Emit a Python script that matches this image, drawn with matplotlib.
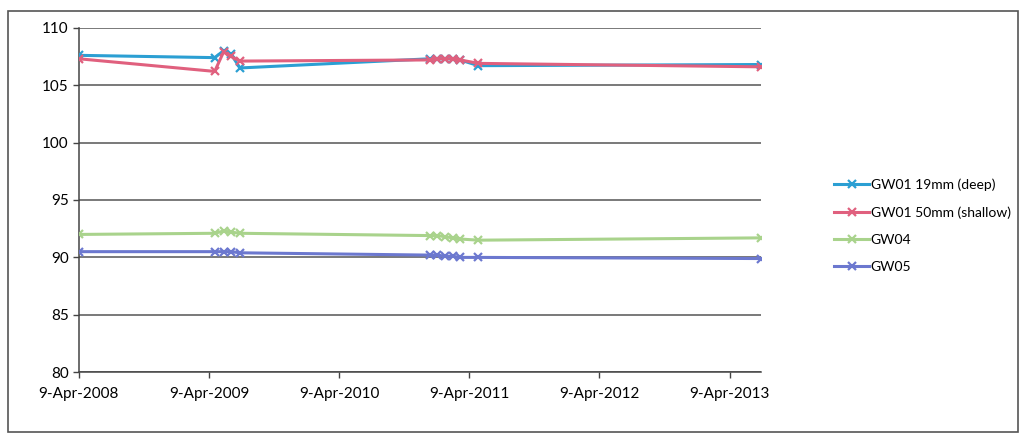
import matplotlib.pyplot as plt
import matplotlib.dates as mdates
import pandas as pd
from matplotlib.patches import Rectangle

# sampling dates
dates = pd.to_datetime(['2008-04-09', '2009-04-25', '2009-05-20', '2009-06-10', '2009-07-05',
                        '2010-12-20', '2011-01-10', '2011-02-01', '2011-02-22', '2011-03-15',
                        '2011-05-05', '2013-07-05'])

gw01_deep = [107.6, 107.4, 108.0, 107.7, 106.5, 107.3, 107.3, 107.3, 107.3, 107.2, 106.7, 106.8]
gw01_shallow = [107.3, 106.2, 107.9, 107.5, 107.1, 107.2, 107.3, 107.3, 107.3, 107.2, 106.9, 106.6]
gw04 = [92.0, 92.1, 92.3, 92.2, 92.1, 91.9, 91.9, 91.8, 91.7, 91.6, 91.5, 91.7]
gw05 = [90.5, 90.5, 90.5, 90.5, 90.4, 90.2, 90.2, 90.1, 90.1, 90.0, 90.0, 89.9]

series_names = ['GW01 19mm (deep)', 'GW01 50mm (shallow)', 'GW04', 'GW05']
series_colors = ['#2b9fd3', '#e0607e', '#a9d38c', '#6c78cf']

tick_dates = pd.to_datetime(['2008-04-09', '2009-04-09', '2010-04-09',
                             '2011-04-09', '2012-04-09', '2013-04-09'])
tick_labels = ['9-Apr-2008', '9-Apr-2009', '9-Apr-2010', '9-Apr-2011', '9-Apr-2012', '9-Apr-2013']
y_ticks = [80, 85, 90, 95, 100, 105, 110]

plt.rcParams['font.family'] = ['Lato', 'DejaVu Sans']

fig = plt.figure(figsize=(10.25, 4.41), dpi=100)
ax = fig.add_axes([0.077, 0.156, 0.665, 0.781])

# outer chart border
fig.patches.append(Rectangle((0.008, 0.02), 0.985, 0.955, transform=fig.transFigure,
                             fill=False, edgecolor='#555555', linewidth=1.2))

for vals, name, col in zip([gw01_deep, gw01_shallow, gw04, gw05], series_names, series_colors):
    ax.plot(dates, vals, color=col, linewidth=2.2, marker='x', markersize=6,
            markeredgewidth=1.6, label=name, zorder=3)

ax.set_xlim(pd.Timestamp('2008-04-09'), pd.Timestamp('2013-07-05'))
ax.set_ylim(80, 110)
ax.set_yticks(y_ticks)
ax.set_xticks(tick_dates)
ax.set_xticklabels(tick_labels)

ax.yaxis.grid(True, color='#555555', linewidth=1.1)
ax.set_axisbelow(True)
for s in ['top', 'right']:
    ax.spines[s].set_visible(False)
ax.spines['left'].set_color('#444444')
ax.spines['bottom'].set_color('#444444')
ax.spines['left'].set_linewidth(1.1)
ax.spines['bottom'].set_linewidth(1.1)
ax.tick_params(axis='both', labelsize=11, colors='#444444', labelcolor='black', length=4, width=1)
ax.tick_params(axis='x', pad=7)

ax.legend(loc='center left', bbox_to_anchor=(1.09, 0.425), frameon=False, fontsize=10,
          handlelength=2.5, handletextpad=0.1, labelspacing=1.1)

plt.savefig('out.png', dpi=100)
